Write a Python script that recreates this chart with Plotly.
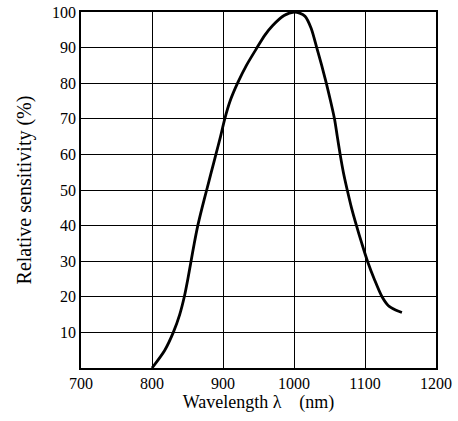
import plotly.graph_objects as go

wavelength = [800, 818, 830, 839, 845.5, 850.5, 855, 859.5, 864.5, 870.5, 877, 883.5, 890, 896.5,
              902.5, 910, 920.5, 933, 948, 959, 970, 986, 1000, 1008, 1015.5, 1024, 1032, 1039,
              1045.5, 1051.5, 1057, 1061, 1065, 1069.5, 1075, 1081, 1088, 1095.5, 1103.5, 1113,
              1124, 1133, 1143, 1152]
sensitivity = [0, 5, 10, 15, 20, 25, 30, 35, 40, 45, 50, 55, 60, 65,
               70, 75, 80, 85, 90, 93.5, 96.2, 99, 100, 99.7, 98.8, 95.5, 90, 85,
               80, 75, 70, 65, 60, 55, 50, 45, 40, 35, 30, 25,
               20, 17.5, 16.3, 15.6]

x_ticks = [700, 800, 900, 1000, 1100, 1200]
y_ticks = [10, 20, 30, 40, 50, 60, 70, 80, 90, 100]

x_title = "Wavelength λ\u00a0\u00a0\u00a0\u00a0(nm)\u00a0\u00a0\u00a0"
y_title = "Relative sensitivity (%)"

fig = go.Figure()
fig.add_trace(go.Scatter(x=wavelength, y=sensitivity, mode="lines",
                         line=dict(color="black", width=2.8, shape="spline", smoothing=0.8),
                         showlegend=False, hoverinfo="skip"))

serif = "Liberation Serif"
fig.update_layout(
    width=458, height=421,
    margin=dict(l=81, r=22, t=12, b=53),
    paper_bgcolor="white", plot_bgcolor="white",
    font=dict(size=16, family=serif, color="black"),
    xaxis=dict(range=[700, 1200], tickvals=x_ticks, ticktext=[str(v) for v in x_ticks],
               showgrid=True, gridcolor="black", gridwidth=1,
               showline=True, linecolor="black", linewidth=1.5, mirror=True,
               ticks="", zeroline=False, automargin=False,
               tickfont=dict(size=16, family=serif, color="black"),
               title=dict(text=x_title, font=dict(size=18, family=serif, color="black"), standoff=4)),
    yaxis=dict(range=[0, 100], tickvals=y_ticks, ticktext=[str(v) for v in y_ticks],
               showgrid=True, gridcolor="black", gridwidth=1,
               showline=True, linecolor="black", linewidth=1.5, mirror=True,
               ticks="", zeroline=False, automargin=False,
               tickfont=dict(size=16, family=serif, color="black"),
               title=dict(text=y_title, font=dict(size=20, family=serif, color="black"), standoff=15)),
)

fig.write_html("out.html", config={"displayModeBar": False},
               post_script="document.body.style.margin='0';")
